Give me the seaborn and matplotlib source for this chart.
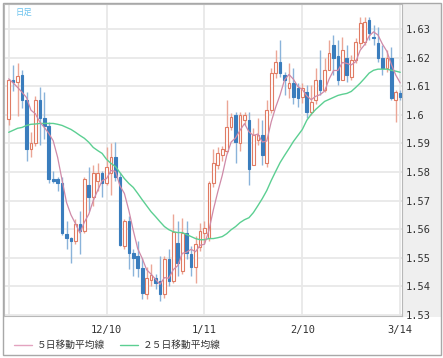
import numpy as np
import pandas as pd
import matplotlib
matplotlib.use("Agg")
import matplotlib.pyplot as plt
from matplotlib.lines import Line2D
from matplotlib.patches import Rectangle
from matplotlib.font_manager import FontProperties
import seaborn as sns

# -----------------------------
# Data (daily candles)
# -----------------------------
opens = [
    1.5984, 1.6121, 1.6114, 1.6139, 1.6051, 1.5879, 1.5900, 1.6051, 1.5988, 1.5960,
    1.5777, 1.5774, 1.5763, 1.5584, 1.5570, 1.5560, 1.5619, 1.5592, 1.5753, 1.5711,
    1.5770, 1.5798, 1.5763, 1.5798, 1.5851, 1.5784, 1.5540, 1.5630, 1.5516, 1.5507,
    1.5465, 1.5374, 1.5423, 1.5430, 1.5419, 1.5374, 1.5496, 1.5419, 1.5552, 1.5454,
    1.5588, 1.5514, 1.5468, 1.5539, 1.5588, 1.5570, 1.5760, 1.5823, 1.5858, 1.5875,
    1.5956, 1.5998, 1.5900, 1.5981, 1.5981, 1.5823, 1.5911, 1.5928, 1.5833, 1.6016,
    1.6146, 1.6184, 1.6139, 1.6093, 1.6110, 1.6093, 1.6061, 1.6079, 1.6009, 1.6051,
    1.6121, 1.6086, 1.6156, 1.6244, 1.6205, 1.6121, 1.6198, 1.6132, 1.6191, 1.6251,
    1.6254, 1.6331, 1.6272, 1.6251, 1.6198, 1.6163, 1.6198, 1.6051, 1.6075]

highs = [
    1.6124, 1.6174, 1.6181, 1.6156, 1.6079, 1.5939, 1.6065, 1.6096, 1.6079, 1.5974,
    1.5805, 1.5784, 1.5784, 1.5630, 1.5574, 1.5637, 1.5665, 1.5784, 1.5816, 1.5823,
    1.5830, 1.5805, 1.5886, 1.5900, 1.5904, 1.5798, 1.5637, 1.5647, 1.5532, 1.5560,
    1.5500, 1.5468, 1.5479, 1.5444, 1.5507, 1.5507, 1.5532, 1.5654, 1.5630, 1.5640,
    1.5630, 1.5542, 1.5577, 1.5623, 1.5630, 1.5770, 1.5882, 1.5886, 1.5890, 1.6051,
    1.6005, 1.6009, 1.6009, 1.6009, 1.6009, 1.5953, 1.5988, 1.5981, 1.6051, 1.6163,
    1.6226, 1.6261, 1.6149, 1.6181, 1.6163, 1.6110, 1.6110, 1.6103, 1.6103, 1.6163,
    1.6226, 1.6198, 1.6261, 1.6279, 1.6261, 1.6272, 1.6244, 1.6209, 1.6268, 1.6342,
    1.6342, 1.6342, 1.6314, 1.6307, 1.6244, 1.6226, 1.6237, 1.6086, 1.6086]

lows = [
    1.5963, 1.6082, 1.5995, 1.6023, 1.5840, 1.5854, 1.5890, 1.5893, 1.5914, 1.5760,
    1.5760, 1.5732, 1.5581, 1.5532, 1.5482, 1.5549, 1.5514, 1.5588, 1.5665, 1.5682,
    1.5735, 1.5711, 1.5753, 1.5718, 1.5770, 1.5540, 1.5532, 1.5461, 1.5437, 1.5433,
    1.5356, 1.5356, 1.5402, 1.5391, 1.5349, 1.5360, 1.5402, 1.5412, 1.5437, 1.5444,
    1.5496, 1.5437, 1.5412, 1.5525, 1.5553, 1.5560, 1.5749, 1.5812, 1.5840, 1.5868,
    1.5946, 1.5833, 1.5875, 1.5963, 1.5753, 1.5823, 1.5893, 1.5823, 1.5816, 1.6005,
    1.6128, 1.6132, 1.6068, 1.6058, 1.6037, 1.6026, 1.6040, 1.5988, 1.5998, 1.6037,
    1.6068, 1.6079, 1.6156, 1.6139, 1.6104, 1.6121, 1.6114, 1.6121, 1.6181, 1.6233,
    1.6244, 1.6261, 1.6244, 1.6184, 1.6139, 1.6149, 1.6051, 1.5974, 1.6051]

closes = [
    1.6121, 1.6114, 1.6135, 1.6051, 1.5882, 1.5900, 1.6051, 1.5988, 1.5960, 1.5777,
    1.5770, 1.5760, 1.5588, 1.5570, 1.5560, 1.5619, 1.5595, 1.5777, 1.5711, 1.5798,
    1.5798, 1.5763, 1.5816, 1.5851, 1.5784, 1.5544, 1.5630, 1.5518, 1.5500, 1.5465,
    1.5377, 1.5430, 1.5440, 1.5412, 1.5374, 1.5496, 1.5419, 1.5591, 1.5482, 1.5588,
    1.5518, 1.5468, 1.5549, 1.5595, 1.5605, 1.5760, 1.5830, 1.5865, 1.5882, 1.5956,
    1.5991, 1.5904, 1.5998, 1.5998, 1.5812, 1.5928, 1.5928, 1.5858, 1.6016, 1.6146,
    1.6184, 1.6146, 1.6121, 1.6110, 1.6061, 1.6058, 1.6093, 1.6009, 1.6044, 1.6121,
    1.6086, 1.6156, 1.6216, 1.6198, 1.6121, 1.6226, 1.6139, 1.6191, 1.6254, 1.6321,
    1.6324, 1.6286, 1.6268, 1.6198, 1.6163, 1.6198, 1.6058, 1.6079, 1.6061]

# 5-day MA for the first 4 days (needs earlier data that is off the chart)
ma5_head = [1.6126, 1.6112, 1.6096, 1.6079]

# 25-day MA
ma25 = [
    1.5939, 1.5946, 1.5953, 1.5956, 1.5963, 1.5967, 1.5968, 1.5970, 1.5970, 1.5970,
    1.5970, 1.5967, 1.5963, 1.5956, 1.5949, 1.5939, 1.5928, 1.5918, 1.5904, 1.5886,
    1.5875, 1.5865, 1.5844, 1.5830, 1.5819, 1.5798, 1.5777, 1.5760, 1.5746, 1.5725,
    1.5703, 1.5682, 1.5661, 1.5644, 1.5626, 1.5609, 1.5598, 1.5591, 1.5588, 1.5588,
    1.5581, 1.5574, 1.5567, 1.5563, 1.5563, 1.5567, 1.5567, 1.5570, 1.5574, 1.5584,
    1.5598, 1.5609, 1.5623, 1.5633, 1.5640, 1.5658, 1.5682, 1.5707, 1.5735, 1.5770,
    1.5802, 1.5833, 1.5858, 1.5882, 1.5907, 1.5928, 1.5949, 1.5981, 1.6002, 1.6019,
    1.6033, 1.6047, 1.6054, 1.6061, 1.6068, 1.6072, 1.6075, 1.6082, 1.6096, 1.6111,
    1.6128, 1.6146, 1.6156, 1.6160, 1.6160, 1.6160, 1.6156, 1.6153, 1.6149]

date_ticks = [0, 22, 44, 66, 88]
date_labels = ["", "12/10", "1/11", "2/10", "3/14"]
price_ticks = [1.53, 1.54, 1.55, 1.56, 1.57, 1.58, 1.59, 1.60, 1.61, 1.62, 1.63]
price_labels = ["1.53", "1.54", "1.55", "1.56", "1.57", "1.58", "1.59",
                "1.6", "1.61", "1.62", "1.63"]
legend_labels = ["５日移動平均線", "２５日移動平均線"]

df = pd.DataFrame({"open": opens, "high": highs, "low": lows, "close": closes})
df["idx"] = np.arange(len(df))
ma5 = df["close"].rolling(5).mean()
ma5.iloc[:4] = ma5_head
df["ma5"] = ma5
df["ma25"] = ma25
up = df["close"] >= df["open"]

# -----------------------------
# Style / layout
# -----------------------------
sns.set_style("white")
plt.rcParams["font.family"] = ["DejaVu Sans Mono", "Noto Sans CJK JP"]

W, H = 443, 358
fig = plt.figure(figsize=(W / 100, H / 100), dpi=100)


def box(l, t, r, b):
    return [l / W, 1 - b / H, (r - l) / W, (b - t) / H]


panel = fig.add_axes(box(402, 4, 441, 317), zorder=0)
panel.set_facecolor("#efefef")
panel.set_xticks([])
panel.set_yticks([])
for s in panel.spines.values():
    s.set_visible(False)

ax = fig.add_axes(box(4, 4, 402, 316), zorder=1)
ax.set_facecolor("white")

up_edge, up_wick = "#e07b63", "#eba696"
dn_face, dn_wick = "#3a7dbd", "#8ab3da"

# wicks
ax.vlines(df["idx"][up], df["low"][up], df["high"][up], color=up_wick, lw=1.0, zorder=2)
ax.vlines(df["idx"][~up], df["low"][~up], df["high"][~up], color=dn_wick, lw=1.0, zorder=2)

# bodies
body_lo = df[["open", "close"]].min(axis=1)
body_h = (df["close"] - df["open"]).abs()
ax.bar(df["idx"][up], body_h[up], bottom=body_lo[up], width=0.6,
       facecolor="white", edgecolor=up_edge, lw=0.8, zorder=3)
ax.bar(df["idx"][~up], body_h[~up], bottom=body_lo[~up], width=0.6,
       facecolor=dn_face, edgecolor=dn_face, lw=0.8, zorder=3)

# moving averages
ma5_col, ma25_col = "#cf8aa8", "#5ccf92"
sns.lineplot(data=df, x="idx", y="ma25", ax=ax, color=ma25_col, lw=1.0, zorder=4)
sns.lineplot(data=df, x="idx", y="ma5", ax=ax, color=ma5_col, lw=0.9, zorder=5)

ax.set_xlim(-1.06, 88.4)
ax.set_ylim(1.5296, 1.6388)
ax.set_xlabel("")
ax.set_ylabel("")

ax.set_xticks(date_ticks)
ax.set_xticklabels(date_labels)
ax.set_yticks(price_ticks)
ax.set_yticklabels(price_labels)
ax.yaxis.tick_right()
ax.tick_params(axis="y", length=0, pad=2.5, labelsize=7.5, labelcolor="#333333")
ax.tick_params(axis="x", length=0, pad=6.5, labelsize=7.5, labelcolor="#333333")
for lab in ax.get_yticklabels():
    lab.set_horizontalalignment("left")

ax.grid(True, color="#e8e8e8", lw=1.3)
ax.set_axisbelow(True)
for s in ax.spines.values():
    s.set_color("#b8b8b8")
    s.set_linewidth(0.8)

# outer frame
fig.add_artist(Rectangle((3 / W, 1 - 355 / H), 438 / W, 352 / H, transform=fig.transFigure,
                         fill=False, edgecolor="#a8a8a8", lw=1.0))

fig.text(16 / W, 1 - 12.5 / H, "日足", color="#6cc3ee", fontsize=6,
         family="Noto Sans CJK JP", va="center", ha="left")

handles = [Line2D([], [], color="#e3a3bf", lw=1.0), Line2D([], [], color=ma25_col, lw=1.0)]
fig.legend(handles, legend_labels, loc="center left", bbox_to_anchor=(14 / W, 1 - 345 / H),
           ncol=2, frameon=False, prop=FontProperties(family="Noto Sans CJK JP", size=7),
           handlelength=1.9, handletextpad=0.45, columnspacing=1.5,
           borderpad=0, borderaxespad=0, labelcolor="#333333")

fig.savefig("out.png", dpi=100)
